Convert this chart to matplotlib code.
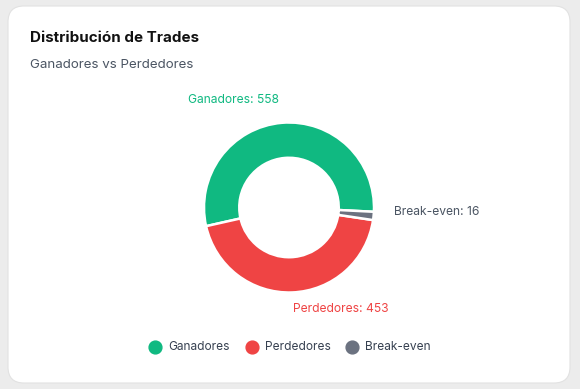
import matplotlib.pyplot as plt
from matplotlib.patches import FancyBboxPatch

# data
categories = ["Ganadores", "Perdedores", "Break-even"]
trades = [558, 453, 16]
colors = ["#10b981", "#ef4444", "#6b7280"]

plt.rcParams["font.family"] = ["Inter", "DejaVu Sans"]

W, H = 580, 389
fig = plt.figure(figsize=(W / 100, H / 100), dpi=100)
fig.patch.set_facecolor("#ececec")
ax = fig.add_axes([0, 0, 1, 1])


def py(y):
    # convert top-based pixel y into data y
    return H - y


# card
card = FancyBboxPatch((8, py(383)), 562, 377,
                      boxstyle="round,pad=0,rounding_size=16",
                      facecolor="white", edgecolor="#e2e2e2", linewidth=0.8)
ax.add_patch(card)

# donut
cx, cy, r = 289, py(207.5), 85
ax.pie(trades, colors=colors, startangle=-2.9, counterclock=True,
       center=(cx, cy), radius=r,
       wedgeprops=dict(width=r * 0.415, edgecolor="white", linewidth=1.8))

# slice labels
ax.text(233, py(100), f"{categories[0]}: {trades[0]}", color=colors[0],
        fontsize=8.7, ha="center", va="center")
ax.text(341, py(309), f"{categories[1]}: {trades[1]}", color=colors[1],
        fontsize=8.7, ha="center", va="center")
ax.text(394, py(212), f"{categories[2]}: {trades[2]}", color="#4b5563",
        fontsize=8.7, ha="left", va="center")

# titles
ax.text(30, py(38), "Distribución de Trades", fontsize=10.9, fontweight="bold",
        color="#111111", ha="left", va="center")
ax.text(30, py(65), "Ganadores vs Perdedores", fontsize=9.6,
        color="#4b5563", ha="left", va="center")

# legend
marker_x = [154.5, 252, 352]
for mx, name, c in zip(marker_x, categories, colors):
    ax.scatter([mx], [py(346.5)], s=85, color=c, zorder=5)
    ax.text(mx + 13.5, py(346.5), name, fontsize=8.6, color="#374151",
            ha="left", va="center")

ax.set_xlim(0, W)
ax.set_ylim(0, H)
ax.set_aspect("equal")
ax.axis("off")

fig.savefig("out.png", dpi=100, facecolor=fig.get_facecolor())
